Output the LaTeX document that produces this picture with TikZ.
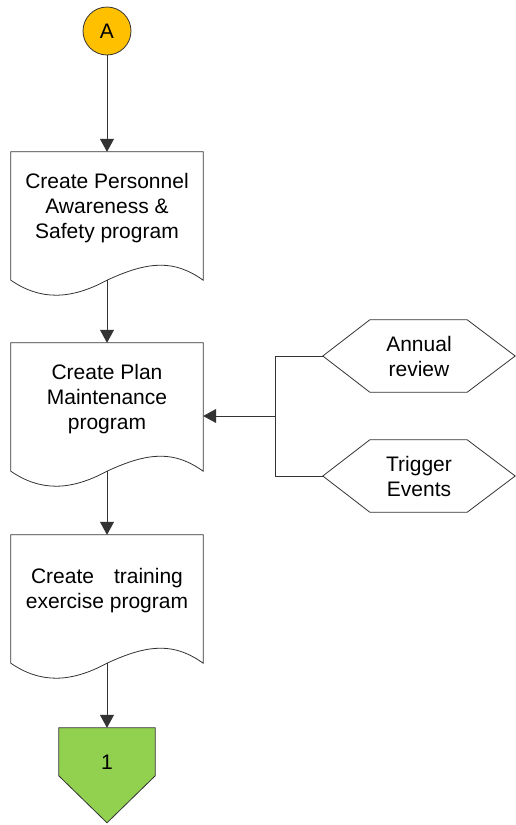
\documentclass[tikz,border=0pt]{standalone}
\usepackage{fontspec}
\setmainfont{Liberation Sans}
\usetikzlibrary{arrows.meta,calc,backgrounds}
\definecolor{connA}{HTML}{FFC000}
\definecolor{connone}{HTML}{92D050}
\begin{document}
\begin{tikzpicture}[x=1pt, y=-1pt,
    every node/.style={font=\fontsize{21}{25}\selectfont, align=center, inner sep=0pt},
    doc/.style={minimum width=192pt, minimum height=112pt},
    hexa/.style={minimum width=192pt, minimum height=72pt},
    link/.style={draw=black!80, line width=0.8pt},
    arr/.style={link, -{Triangle[width=14pt,length=13pt]}}]
        \useasboundingbox (0, 0) rectangle (516, 825);
        \node[circle, link, fill=connA, minimum size=48pt] (A) at (107, 31) {A};
        \node[doc] (doc1) at (107, 208) {Create Personnel\\Awareness \&\\Safety program};
        \node[doc] (doc2) at (107, 399) {Create Plan\\Maintenance\\program};
        \node[doc] (doc3) at (107, 591) {Create\hspace{20pt}training\\exercise program};
        \node[hexa] (annual) at (419, 356) {Annual\\review};
        \node[hexa] (trigger) at (419, 476) {Trigger\\Events};
        \node[minimum width=96pt, minimum height=68pt] (one) at (107, 762) {1};
        \begin{scope}[on background layer]
          \foreach \d in {doc1, doc2, doc3}{
            \draw[link] ($(\d.south west)+(0, 16)$) -- (\d.north west) -- (\d.north east) -- ($(\d.south east)+(0, 16)$)
              .. controls ($(\d.south)+(68, -4)$) and ($(\d.south)+(43, -4)$) .. ($(\d.south)+(0, 16)$)
              .. controls ($(\d.south)+(-37, 36)$) and ($(\d.south)+(-67, 36)$) .. ($(\d.south west)+(0, 16)$) -- cycle;
            \coordinate (\d-w) at ($(\d.south)+(0, 16)$);
          }
          \foreach \h in {annual, trigger}{
            \draw[link] (\h.west) -- ($(\h.north west)+(47, 0)$) -- ($(\h.north east)+(-48, 0)$) -- (\h.east)
              -- ($(\h.south east)+(-48, 0)$) -- ($(\h.south west)+(47, 0)$) -- cycle;
          }
          \draw[link, fill=connone] (one.north west) -- (one.north east) -- ($(one.north east)+(0, 48)$)
            -- ($(one.north)+(0, 95)$) -- ($(one.north west)+(0, 48)$) -- cycle;
        \end{scope}
        \coordinate (jn) at (275, 416);
        \draw[arr] (A) -- (doc1);
        \draw[arr] (doc1-w) -- (doc2);
        \draw[arr] (doc2-w) -- (doc3);
        \draw[arr] (doc3-w) -- (one);
        \draw[link] (annual.west) -| (jn);
        \draw[link] (trigger.west) -| (jn);
        \draw[arr] (jn) -- (jn -| doc2.east);
      \end{tikzpicture}
\end{document}
